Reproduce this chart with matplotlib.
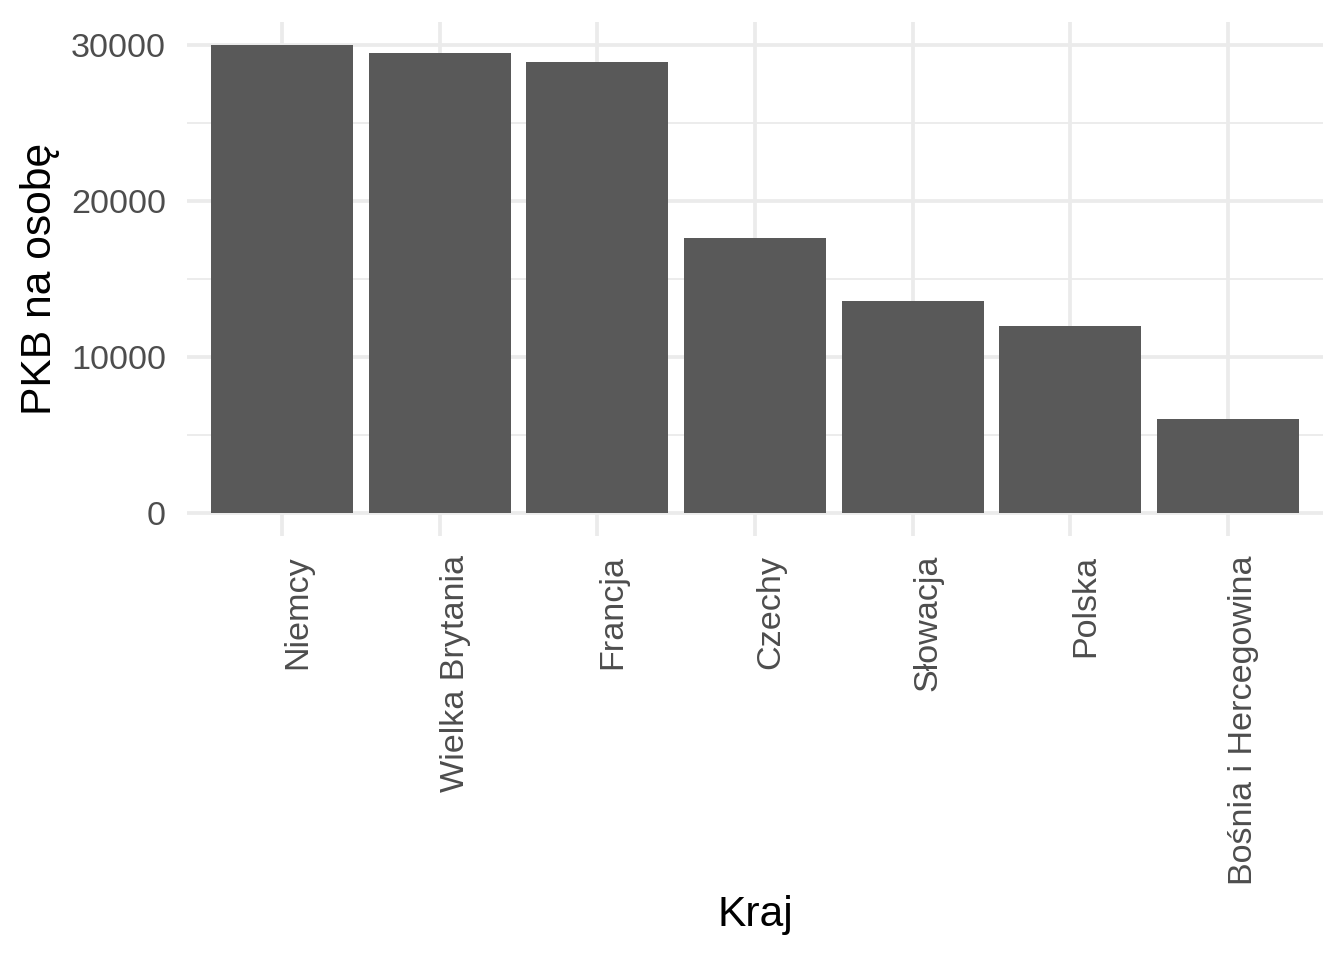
import matplotlib
matplotlib.use("Agg")
import matplotlib.pyplot as plt
from matplotlib.ticker import MultipleLocator

plt.rcParams['font.family'] = ['Liberation Sans', 'DejaVu Sans']

kraje = ["Niemcy", "Wielka Brytania", "Francja", "Czechy", "Słowacja", "Polska",
         "Bośnia i Hercegowina"]
pkb = [30000, 29500, 28900, 17600, 13600, 12000, 6000]

fig = plt.figure(figsize=(7, 5), dpi=192)
ax = fig.add_axes([0.1394, 0.4413, 0.8447, 0.5362])

x = list(range(1, len(kraje) + 1))
ax.bar(x, pkb, width=0.9, color="#595959", zorder=2)

ax.set_xlim(0.4, len(kraje) + 0.6)
ax.set_ylim(-1500, 31500)
ax.yaxis.set_major_locator(MultipleLocator(10000))
ax.yaxis.set_minor_locator(MultipleLocator(5000))
ax.set_xticks(x)
ax.set_xticklabels(kraje, rotation=90, va="top", ha="left")

ax.grid(which="major", color="#EBEBEB", linewidth=1.42, zorder=0)
ax.grid(which="minor", axis="y", color="#EBEBEB", linewidth=0.71, zorder=0)
ax.set_axisbelow(True)
for s in ax.spines.values():
    s.set_visible(False)
ax.tick_params(which="both", length=0, labelsize=12.8, labelcolor="#4D4D4D")
ax.tick_params(axis="x", pad=7)
ax.tick_params(axis="y", pad=8)

ax.set_xlabel("Kraj", fontsize=16, color="black", labelpad=4)
ax.set_ylabel("PKB na osobę", fontsize=16, color="black", labelpad=4)

fig.savefig("out.png", dpi=192)
